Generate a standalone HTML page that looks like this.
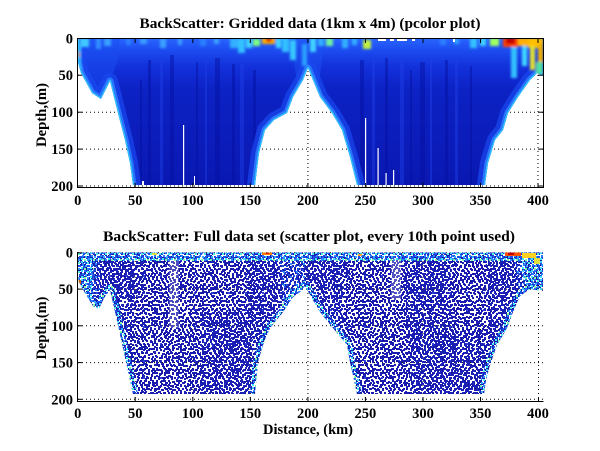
<!DOCTYPE html>
<html><head><meta charset="utf-8"><style>
html,body{margin:0;padding:0;background:#fff;}
svg{display:block;}
text{font-family:"Liberation Serif","Times New Roman",serif;font-weight:bold;fill:#000;}
</style></head><body>
<svg width="600" height="451" viewBox="0 0 600 451" xmlns="http://www.w3.org/2000/svg">
<defs>
<clipPath id="c1"><path d="M78,38.5 L543,38.5 L543,76 L537,73 L530,80 L518,97 L508,113 L503,130 L495,140 L488,163 L485,185 L357,185 L350,157 L342,130 L332,113 L320,97 L308,68 L303,80 L293,97 L287,113 L274,120 L265,130 L259,153 L255,185 L133,185 L130,163 L125,140 L118,113 L110,81 L101,99 L92,93 L81,73 L78,62 Z"/></clipPath>
<clipPath id="c2"><path d="M78,252.5 L543,252.5 L543,291 L530,289 L520,296 L513,312 L507,328 L497,345 L490,365 L486,380 L484,394 L357,394 L354,380 L350,362 L347,345 L333,328 L320,312 L310,295 L305,286 L300,292 L293,297 L283,312 L270,328 L263,345 L258,362 L255,394 L133,394 L130,380 L126,362 L118,325 L110,290 L104,298 L99,309 L93,306 L85,293 L79,282 L78,276 Z"/></clipPath>
<linearGradient id="gTop" x1="0" y1="38" x2="0" y2="186" gradientUnits="userSpaceOnUse">
<stop offset="0" stop-color="#2a66ff"/><stop offset="0.08" stop-color="#1c4cf0"/><stop offset="0.2" stop-color="#1230da"/><stop offset="0.35" stop-color="#0c22c4"/><stop offset="1" stop-color="#0a18b2"/>
</linearGradient>
<filter id="bl" x="-30%" y="-30%" width="160%" height="160%"><feGaussianBlur stdDeviation="1.2"/></filter>
<pattern id="pA" width="12" height="12" patternUnits="userSpaceOnUse">
<g fill="#1818a8">
<rect x="0" y="0" width="2" height="2"/><rect x="4" y="1" width="2" height="2"/><rect x="8" y="0" width="3" height="2"/><rect x="2" y="4" width="2" height="2"/><rect x="6" y="5" width="2" height="2"/><rect x="10" y="4" width="2" height="2"/><rect x="0" y="8" width="2" height="2"/><rect x="4" y="9" width="2" height="2"/><rect x="8" y="8" width="2" height="2"/><rect x="10" y="10" width="2" height="2"/>
</g>
</pattern>
<pattern id="pB" width="17" height="17" patternUnits="userSpaceOnUse">
<g fill="#1a1cb0">
<rect x="1" y="2" width="2" height="2"/><rect x="6" y="0" width="2" height="2"/><rect x="11" y="3" width="2" height="2"/><rect x="15" y="1" width="2" height="2"/><rect x="3" y="7" width="2" height="2"/><rect x="8" y="6" width="3" height="2"/><rect x="13" y="8" width="2" height="2"/><rect x="0" y="11" width="2" height="2"/><rect x="5" y="12" width="2" height="2"/><rect x="10" y="10" width="2" height="2"/><rect x="15" y="13" width="2" height="2"/><rect x="2" y="15" width="2" height="2"/><rect x="8" y="15" width="2" height="2"/><rect x="12" y="14" width="2" height="2"/>
</g>
<rect x="7" y="3" width="2" height="2" fill="#2a40d8"/>
</pattern>
<pattern id="pC" width="13" height="13" patternUnits="userSpaceOnUse">
<g fill="#1a1eb4">
<rect x="2" y="1" width="2" height="2"/><rect x="7" y="2" width="2" height="2"/><rect x="11" y="0" width="2" height="2"/><rect x="0" y="5" width="2" height="2"/><rect x="5" y="6" width="2" height="2"/><rect x="9" y="5" width="2" height="2"/><rect x="3" y="9" width="2" height="2"/><rect x="8" y="10" width="2" height="2"/><rect x="11" y="8" width="2" height="2"/><rect x="0" y="11" width="2" height="2"/>
</g>
</pattern>
<pattern id="pD" width="11" height="11" patternUnits="userSpaceOnUse">
<g fill="#1c24bc">
<rect x="1" y="0" width="2" height="2"/><rect x="6" y="1" width="2" height="2"/><rect x="9" y="3" width="2" height="2"/><rect x="3" y="4" width="2" height="2"/><rect x="0" y="7" width="2" height="2"/><rect x="6" y="6" width="2" height="2"/><rect x="4" y="9" width="2" height="2"/><rect x="9" y="9" width="2" height="2"/>
</g>
</pattern>
<pattern id="pM" width="13" height="13" patternUnits="userSpaceOnUse">
<g fill="#1e4ae4">
<rect x="2" y="1" width="2" height="2"/><rect x="7" y="2" width="2" height="2"/><rect x="11" y="0" width="2" height="2"/><rect x="0" y="5" width="2" height="2"/><rect x="5" y="6" width="2" height="2"/><rect x="9" y="5" width="2" height="2"/><rect x="3" y="9" width="2" height="2"/><rect x="8" y="10" width="2" height="2"/><rect x="11" y="8" width="2" height="2"/><rect x="0" y="11" width="2" height="2"/>
</g>
<g fill="#2c8cff"><rect x="4" y="3" width="2" height="2"/><rect x="10" y="11" width="2" height="2"/></g>
</pattern>
<pattern id="pL" width="9" height="9" patternUnits="userSpaceOnUse">
<rect x="0" y="0" width="2" height="2" fill="#40d0ff"/><rect x="3" y="0" width="2" height="2" fill="#2070ff"/><rect x="6" y="1" width="2" height="2" fill="#50f0e0"/>
<rect x="1" y="3" width="2" height="2" fill="#2a80ff"/><rect x="4" y="4" width="2" height="2" fill="#30b0ff"/><rect x="7" y="4" width="2" height="2" fill="#1850f0"/>
<rect x="0" y="6" width="2" height="2" fill="#40e8ff"/><rect x="3" y="7" width="2" height="2" fill="#80ffa0"/><rect x="6" y="7" width="2" height="2" fill="#2a90ff"/>
</pattern>
</defs>

<!-- ================= TOP PLOT ================= -->
<g stroke="#000" stroke-width="1" stroke-dasharray="1,3" fill="none">
<line x1="78" y1="75.2" x2="543" y2="75.2"/><line x1="78" y1="112.2" x2="543" y2="112.2"/><line x1="78" y1="149.1" x2="543" y2="149.1"/><line x1="78" y1="186" x2="543" y2="186"/>
<line x1="135.2" y1="39" x2="135.2" y2="187"/><line x1="192.8" y1="39" x2="192.8" y2="187"/><line x1="250.3" y1="39" x2="250.3" y2="187"/><line x1="307.9" y1="39" x2="307.9" y2="187"/><line x1="365.4" y1="39" x2="365.4" y2="187"/><line x1="423" y1="39" x2="423" y2="187"/><line x1="480.5" y1="39" x2="480.5" y2="187"/><line x1="538" y1="39" x2="538" y2="187"/>
</g>
<g clip-path="url(#c1)">
<rect x="77" y="38" width="467" height="150" fill="url(#gTop)"/>
<g fill="#0510a0" opacity="0.45">
<rect x="148" y="60" width="3" height="126"/><rect x="170" y="55" width="4" height="131"/><rect x="196" y="62" width="2" height="124"/><rect x="215" y="58" width="5" height="128"/><rect x="232" y="64" width="3" height="122"/><rect x="360" y="60" width="4" height="126"/><rect x="385" y="58" width="3" height="128"/><rect x="420" y="62" width="5" height="124"/><rect x="445" y="60" width="3" height="126"/><rect x="470" y="66" width="2" height="120"/><rect x="140" y="80" width="2" height="106"/><rect x="253" y="70" width="3" height="116"/><rect x="410" y="70" width="2" height="116"/>
</g>
<g fill="#2040e8" opacity="0.45">
<rect x="160" y="60" width="3" height="126"/><rect x="205" y="60" width="2" height="126"/><rect x="240" y="64" width="4" height="122"/><rect x="372" y="60" width="3" height="126"/><rect x="400" y="60" width="4" height="126"/><rect x="430" y="60" width="2" height="126"/><rect x="455" y="60" width="3" height="126"/>
</g>
<path d="M78,38 L120,38 L118,60 L110,81 L101,99 L92,93 L81,73 Z" fill="#1a4cf0" opacity="0.55"/>
<path d="M290,38 L325,38 L318,90 L308,68 L298,88 Z" fill="#1c50f0" opacity="0.5"/>
<g fill="none" stroke-linejoin="round" stroke-linecap="round">
<g stroke="#1a48f0" stroke-width="16" opacity="0.7">
<polyline points="78,40 78,62 81,73 92,93 101,99 110,81 118,113 125,140 130,163 133,185"/>
<polyline points="255,185 259,153 265,130 274,120 287,113 293,97 303,80 308,68 320,97 332,113 342,130 350,157 357,185"/>
<polyline points="485,185 488,163 495,140 503,130 508,113 518,97 530,80 537,73 543,76"/>
</g>
<g stroke="#2a7cff" stroke-width="7" opacity="0.9">
<polyline points="78,40 78,62 81,73 92,93 101,99 110,81 118,113 125,140 130,163 133,185"/>
<polyline points="255,185 259,153 265,130 274,120 287,113 293,97 303,80 308,68 320,97 332,113 342,130 350,157 357,185"/>
<polyline points="485,185 488,163 495,140 503,130 508,113 518,97 530,80 537,73 543,76"/>
</g>
<g stroke="#30c4ff" stroke-width="2.5">
<polyline points="78,40 78,62 81,73 92,93 101,99 110,81 118,113 125,140 130,163 133,185"/>
<polyline points="255,185 259,153 265,130 274,120 287,113 293,97 303,80 308,68 320,97 332,113 342,130 350,157 357,185"/>
<polyline points="485,185 488,163 495,140 503,130 508,113 518,97 530,80 537,73 543,76"/>
</g>
</g>
<g filter="url(#bl)">
<rect x="80" y="38" width="9" height="9" fill="#40c8ff"/>
<rect x="78" y="45" width="3" height="26" fill="#30b0ff"/>
<rect x="78" y="52" width="2" height="5" fill="#e08020"/>
<rect x="96" y="38" width="5" height="11" fill="#3090ff"/><rect x="104" y="38" width="7" height="8" fill="#3aa0ff"/>
<rect x="126" y="38" width="5" height="7" fill="#2a80ff"/><rect x="140" y="38" width="7" height="6" fill="#3a9cff"/>
<rect x="160" y="38" width="6" height="10" fill="#3aa0ff"/><rect x="178" y="38" width="4" height="7" fill="#3aa0ff"/>
<rect x="200" y="38" width="6" height="8" fill="#2a80ff"/><rect x="214" y="38" width="5" height="6" fill="#3aa0ff"/>
<rect x="230" y="38" width="8" height="10" fill="#30b0ff"/>
<rect x="238" y="38" width="7" height="15" fill="#30c0ff"/><rect x="246" y="38" width="6" height="10" fill="#40d0ff"/>
<rect x="253" y="39" width="7" height="7" fill="#80ff80"/>
<rect x="262" y="38" width="13" height="6" fill="#ffb000"/>
<rect x="266" y="38" width="6" height="4" fill="#e03000"/>
<rect x="276" y="38" width="5" height="10" fill="#40d8ff"/>
<rect x="282" y="38" width="7" height="14" fill="#30c0ff"/><rect x="290" y="40" width="6" height="20" fill="#38c8ff"/>
<rect x="302" y="44" width="5" height="22" fill="#2aa0ff"/><rect x="310" y="38" width="6" height="14" fill="#40d0ff"/>
<rect x="318" y="38" width="6" height="8" fill="#30b0ff"/>
<rect x="326" y="38" width="7" height="8" fill="#70f0a0"/>
<rect x="342" y="38" width="6" height="10" fill="#30b0ff"/><rect x="352" y="38" width="5" height="7" fill="#30b0ff"/>
<rect x="363" y="40" width="8" height="9" fill="#c0f040"/>
<rect x="440" y="38" width="6" height="7" fill="#2a80ff"/><rect x="454" y="38" width="5" height="6" fill="#30a0ff"/>
<rect x="470" y="38" width="7" height="10" fill="#30c0ff"/><rect x="480" y="38" width="6" height="8" fill="#40d0ff"/>
<rect x="490" y="38" width="9" height="8" fill="#a0ff60"/>
<rect x="511" y="46" width="6" height="32" fill="#30c0ff"/>
<rect x="503" y="38" width="15" height="9" fill="#ff4000"/>
<rect x="506" y="38" width="9" height="6" fill="#c80000"/>
<rect x="518" y="38" width="10" height="8" fill="#ffb000"/>
<rect x="528" y="38" width="15" height="10" fill="#ffc000"/>
<rect x="522" y="46" width="5" height="20" fill="#40d8ff"/>
<rect x="530" y="46" width="5" height="24" fill="#e0e030"/>
<rect x="538" y="44" width="5" height="20" fill="#f0b000"/>
<rect x="536" y="62" width="7" height="12" fill="#50e0a0"/>
</g>
<g fill="#fff">
<rect x="378" y="38" width="8" height="3"/><rect x="390" y="38" width="4" height="3"/><rect x="397" y="38" width="10" height="3"/><rect x="412" y="38" width="3" height="3"/><rect x="453" y="38" width="2" height="4"/>
<rect x="183" y="125" width="1.2" height="61"/><rect x="194" y="176" width="1" height="10"/><rect x="142" y="181" width="2" height="5"/>
<rect x="365" y="118" width="1.2" height="68"/><rect x="377.5" y="148" width="1.2" height="38"/><rect x="385.5" y="173" width="1.2" height="13"/><rect x="393" y="170" width="1.2" height="16"/>
</g>
</g>
<rect x="77.5" y="38.5" width="466" height="149" fill="none" stroke="#000" stroke-width="1"/>
<g stroke="#000" stroke-width="1">
<line x1="135.2" y1="187.5" x2="135.2" y2="183"/><line x1="192.8" y1="187.5" x2="192.8" y2="183"/><line x1="250.3" y1="187.5" x2="250.3" y2="183"/><line x1="307.9" y1="187.5" x2="307.9" y2="183"/><line x1="365.4" y1="187.5" x2="365.4" y2="183"/><line x1="423" y1="187.5" x2="423" y2="183"/><line x1="480.5" y1="187.5" x2="480.5" y2="183"/><line x1="538" y1="187.5" x2="538" y2="183"/>
<line x1="135.2" y1="38.5" x2="135.2" y2="43"/><line x1="192.8" y1="38.5" x2="192.8" y2="43"/><line x1="250.3" y1="38.5" x2="250.3" y2="43"/><line x1="307.9" y1="38.5" x2="307.9" y2="43"/><line x1="365.4" y1="38.5" x2="365.4" y2="43"/><line x1="423" y1="38.5" x2="423" y2="43"/><line x1="480.5" y1="38.5" x2="480.5" y2="43"/><line x1="538" y1="38.5" x2="538" y2="43"/>
<line x1="77.5" y1="75.2" x2="82" y2="75.2"/><line x1="77.5" y1="112.2" x2="82" y2="112.2"/><line x1="77.5" y1="149.1" x2="82" y2="149.1"/><line x1="77.5" y1="186" x2="82" y2="186"/>
<line x1="543.5" y1="75.2" x2="539" y2="75.2"/><line x1="543.5" y1="112.2" x2="539" y2="112.2"/><line x1="543.5" y1="149.1" x2="539" y2="149.1"/><line x1="543.5" y1="186" x2="539" y2="186"/>
</g>
<text x="310" y="28" font-size="15" text-anchor="middle" textLength="341" lengthAdjust="spacingAndGlyphs">BackScatter: Gridded data (1km x 4m) (pcolor plot)</text>
<g font-size="14.5" text-anchor="middle">
<text x="77.7" y="205">0</text><text x="135.2" y="205">50</text><text x="192.8" y="205">100</text><text x="250.3" y="205">150</text><text x="307.9" y="205">200</text><text x="365.4" y="205">250</text><text x="423" y="205">300</text><text x="480.5" y="205">350</text><text x="538" y="205">400</text>
</g>
<g font-size="14.5" text-anchor="end">
<text x="73" y="43.3">0</text><text x="73" y="80.2">50</text><text x="73" y="117.2">100</text><text x="73" y="154.1">150</text><text x="73" y="191">200</text>
</g>
<text transform="translate(46,115) rotate(-90)" font-size="14.5" text-anchor="middle" textLength="64" lengthAdjust="spacingAndGlyphs">Depth,(m)</text>

<!-- ================= BOTTOM PLOT ================= -->
<g stroke="#000" stroke-width="1" stroke-dasharray="1,3" fill="none">
<line x1="78" y1="252.8" x2="543" y2="252.8"/><line x1="78" y1="289.1" x2="543" y2="289.1"/><line x1="78" y1="325.8" x2="543" y2="325.8"/><line x1="78" y1="362.6" x2="543" y2="362.6"/><line x1="78" y1="399.3" x2="543" y2="399.3"/>
<line x1="135.2" y1="253" x2="135.2" y2="401"/><line x1="192.8" y1="253" x2="192.8" y2="401"/><line x1="250.3" y1="253" x2="250.3" y2="401"/><line x1="307.9" y1="253" x2="307.9" y2="401"/><line x1="365.4" y1="253" x2="365.4" y2="401"/><line x1="423" y1="253" x2="423" y2="401"/><line x1="480.5" y1="253" x2="480.5" y2="401"/><line x1="538.5" y1="253" x2="538.5" y2="401"/>
</g>
<g clip-path="url(#c2)">
<rect x="77" y="252" width="467" height="143" fill="url(#pA)"/>
<rect x="77" y="252" width="467" height="143" fill="url(#pB)"/>
<rect x="77" y="252" width="467" height="143" fill="url(#pC)"/>
<g fill="url(#pD)">
<polygon points="90,252 145,252 142,280 134,310 124,345 110,300 95,300"/>
<polygon points="244,252 282,252 285,290 272,328 264,355 254,370"/>
<polygon points="296,252 348,252 342,300 347,345 352,365 320,312 305,286"/>
<polygon points="403,252 450,252 455,394 410,394"/>
<polygon points="485,252 522,252 515,312 499,345 490,345"/>
<polygon points="200,310 250,310 250,394 200,394"/>
<polygon points="440,330 484,330 484,394 440,394"/>
</g>
<g fill="url(#pM)">
<polygon points="78,252 100,252 100,310 78,290"/>
<polygon points="278,252 305,252 305,290 285,310"/>
<polygon points="513,252 543,252 543,292 520,296"/>
</g>
<rect x="169" y="258" width="10" height="70" fill="#fff" opacity="0.22"/>
<rect x="391" y="258" width="10" height="42" fill="#fff" opacity="0.25"/>
<rect x="77" y="252" width="467" height="9" fill="url(#pM)"/>
<rect x="77" y="252" width="467" height="9" fill="url(#pL)"/>
<polygon points="78,252 95,252 92,300 78,285" fill="url(#pL)"/>
<polygon points="520,252 543,252 543,292 525,292" fill="url(#pL)"/>
<g fill="none" stroke="url(#pL)" stroke-width="10" stroke-linejoin="round">
<polyline points="78,254 78,276 79,282 85,293 93,306 99,309 104,298 110,290 118,325 126,362 130,380 133,394"/>
<polyline points="255,394 258,362 263,345 270,328 283,312 293,297 300,292 305,286 310,295 320,312 333,328 347,345 350,362 354,380 357,394"/>
<polyline points="484,394 486,380 490,365 497,345 507,328 513,312 520,296 530,289 543,291"/>
</g>
<g>
<rect x="262" y="252" width="10" height="3" fill="#ff8000"/><rect x="266" y="252" width="3" height="2" fill="#d02000"/>
<rect x="505" y="252" width="16" height="4" fill="#ff5000"/><rect x="508" y="252" width="6" height="3" fill="#c00000"/>
<rect x="522" y="253" width="14" height="5" fill="#ffd020"/><rect x="534" y="258" width="6" height="6" fill="#e0e040"/>
<rect x="78" y="280" width="3" height="4" fill="#d06000"/>
<rect x="152" y="253" width="5" height="2" fill="#e0e040"/><rect x="358" y="254" width="4" height="2" fill="#ffa020"/>
</g>
</g>
<g stroke="#000" stroke-width="1">
<line x1="77.5" y1="252" x2="77.5" y2="401.5"/><line x1="77" y1="401.5" x2="543.5" y2="401.5"/>
<line x1="135.2" y1="401.5" x2="135.2" y2="397"/><line x1="192.8" y1="401.5" x2="192.8" y2="397"/><line x1="250.3" y1="401.5" x2="250.3" y2="397"/><line x1="307.9" y1="401.5" x2="307.9" y2="397"/><line x1="365.4" y1="401.5" x2="365.4" y2="397"/><line x1="423" y1="401.5" x2="423" y2="397"/><line x1="480.5" y1="401.5" x2="480.5" y2="397"/><line x1="538.5" y1="401.5" x2="538.5" y2="397"/>
<line x1="77.5" y1="252.8" x2="82" y2="252.8"/><line x1="77.5" y1="289.1" x2="82" y2="289.1"/><line x1="77.5" y1="325.8" x2="82" y2="325.8"/><line x1="77.5" y1="362.6" x2="82" y2="362.6"/><line x1="77.5" y1="399.3" x2="82" y2="399.3"/>
</g>
<text x="309" y="241" font-size="15" text-anchor="middle" textLength="412" lengthAdjust="spacingAndGlyphs">BackScatter: Full data set (scatter plot, every 10th point used)</text>
<g font-size="14.5" text-anchor="middle">
<text x="77.7" y="418">0</text><text x="135.2" y="418">50</text><text x="192.8" y="418">100</text><text x="250.3" y="418">150</text><text x="307.9" y="418">200</text><text x="365.4" y="418">250</text><text x="423" y="418">300</text><text x="480.5" y="418">350</text><text x="538" y="418">400</text>
</g>
<g font-size="14.5" text-anchor="end">
<text x="73" y="257.3">0</text><text x="73" y="294.1">50</text><text x="73" y="330.8">100</text><text x="73" y="367.6">150</text><text x="73" y="404.3">200</text>
</g>
<text transform="translate(46,328) rotate(-90)" font-size="14.5" text-anchor="middle" textLength="63" lengthAdjust="spacingAndGlyphs">Depth,(m)</text>
<text x="308" y="434" font-size="14.5" text-anchor="middle" textLength="90" lengthAdjust="spacingAndGlyphs">Distance, (km)</text>
</svg>
</body></html>
